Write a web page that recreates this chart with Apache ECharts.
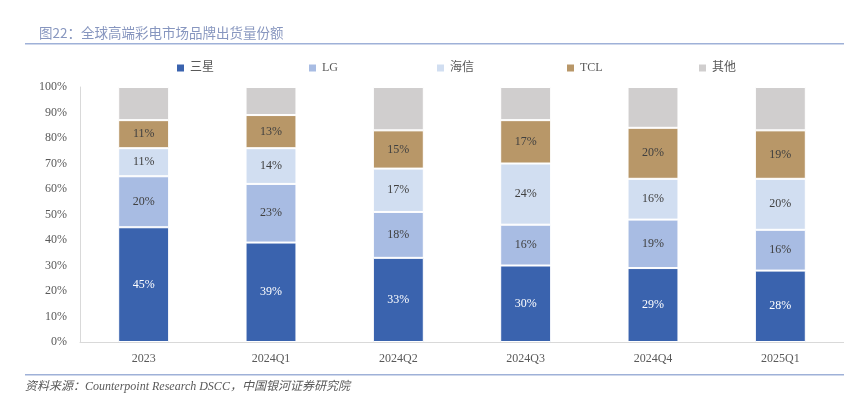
<!DOCTYPE html>
<html>
<head>
<meta charset="utf-8">
<script src="https://cdn.jsdelivr.net/npm/echarts@6/dist/echarts.min.js"></script>
<style>
  html, body { margin: 0; padding: 0; background: #fff; }
  #chart { width: 844px; height: 396px; }
</style>
</head>
<body>
<div id="chart"></div>
<script>
const categories = ['2023', '2024Q1', '2024Q2', '2024Q3', '2024Q4', '2025Q1'];
const brands = ['三星', 'LG', '海信', 'TCL', '其他'];
const samsung = [45, 39, 33, 30, 29, 28];
const lg = [20, 23, 18, 16, 19, 16];
const hisense = [11, 14, 17, 24, 16, 20];
const tcl = [11, 13, 15, 17, 20, 19];
const others = [13, 11, 17, 13, 16, 17];
const yTicks = [0, 10, 20, 30, 40, 50, 60, 70, 80, 90, 100];

const colors = ['#3a63ae', '#a8bce3', '#d1def1', '#b89768', '#d0cece'];
const serif = '"Liberation Serif", "DejaVu Serif", "Noto Sans CJK SC", serif';
// legend item x positions (Excel spaces them evenly)
const legendLeft = [170, 302, 430, 560, 692];

const chart = echarts.init(document.getElementById('chart'));

function makeSeries(name, data, idx) {
  return {
    name: name,
    type: 'bar',
    stack: 'share',
    barWidth: '40%',
    data: data,
    itemStyle: { color: colors[idx], borderColor: '#fff', borderWidth: 1 },
    label: {
      show: idx < 4,
      position: 'inside',
      formatter: '{c}%',
      fontFamily: serif,
      fontSize: 12,
      color: idx === 0 ? '#ffffff' : '#404040'
    }
  };
}

const option = {
  animation: false,
  color: colors,
  title: {
    text: '图22：全球高端彩电市场品牌出货量份额',
    left: 34,
    top: 21,
    textStyle: { fontFamily: '"Noto Sans CJK SC", sans-serif', fontSize: 13.5, fontWeight: 'normal', color: '#8796bf' }
  },
  legend: brands.map((b, i) => ({
    data: [b],
    left: legendLeft[i],
    top: 57,
    itemWidth: 9,
    itemHeight: 9,
    icon: 'rect',
    textStyle: { fontFamily: serif, fontSize: 12, color: '#595959' }
  })),
  grid: { left: 80, top: 87, width: 768, height: 255 },
  xAxis: {
    type: 'category',
    data: categories,
    axisLine: { lineStyle: { color: '#d9d9d9' } },
    axisTick: { show: false },
    axisLabel: { fontFamily: serif, fontSize: 12, color: '#595959', margin: 11 }
  },
  yAxis: {
    type: 'value',
    min: yTicks[0],
    max: yTicks[yTicks.length - 1],
    interval: 10,
    axisLine: { show: true, lineStyle: { color: '#d9d9d9' } },
    axisTick: { show: false },
    splitLine: { show: false },
    axisLabel: { fontFamily: serif, fontSize: 12, color: '#595959', margin: 13, formatter: '{value}%' }
  },
  graphic: [
    { type: 'rect', shape: { x: 25, y: 43, width: 819, height: 1.5 }, style: { fill: '#9fb1d8' } },
    { type: 'rect', shape: { x: 25, y: 374, width: 819, height: 1.5 }, style: { fill: '#9fb1d8' } },
    {
      type: 'text', left: 25, top: 381,
      style: {
        text: '资料来源：Counterpoint Research DSCC，中国银河证券研究院',
        font: 'italic 12px "Liberation Serif", "Noto Sans CJK SC", serif',
        fill: '#595959'
      }
    }
  ],
  series: [
    makeSeries(brands[0], samsung, 0),
    makeSeries(brands[1], lg, 1),
    makeSeries(brands[2], hisense, 2),
    makeSeries(brands[3], tcl, 3),
    makeSeries(brands[4], others, 4)
  ]
};

chart.setOption(option);
</script>
</body>
</html>
